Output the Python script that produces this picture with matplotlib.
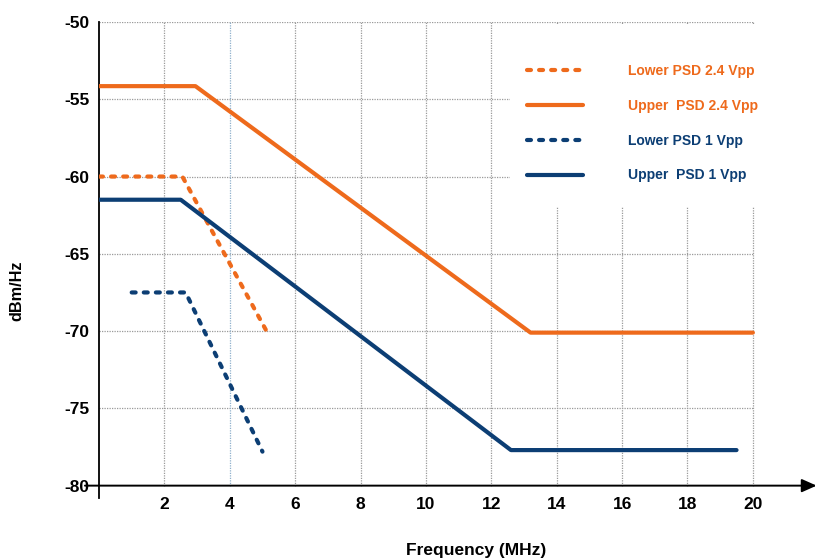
import matplotlib
matplotlib.use("Agg")
import matplotlib.pyplot as plt
from matplotlib.patches import Rectangle

plt.rcParams['font.family'] = ['Liberation Sans', 'DejaVu Sans']

# ---- data ----
x_lower24 = [0.0, 2.55, 5.15]
y_lower24 = [-60.0, -60.0, -70.1]
x_upper24 = [0.0, 2.95, 13.2, 20.0]
y_upper24 = [-54.15, -54.15, -70.1, -70.1]
x_lower1 = [1.0, 2.65, 5.0]
y_lower1 = [-67.5, -67.5, -77.8]
x_upper1 = [0.0, 2.5, 12.6, 19.5]
y_upper1 = [-61.5, -61.5, -77.7, -77.7]

labels = ["Lower PSD 2.4 Vpp", "Upper  PSD 2.4 Vpp", "Lower PSD 1 Vpp", "Upper  PSD 1 Vpp"]
x_ticks = [2, 4, 6, 8, 10, 12, 14, 16, 18, 20]
y_ticks = [-50, -55, -60, -65, -70, -75, -80]

ORANGE = '#EE6A1C'
NAVY = '#0C3E74'
GRID = '#9a9a9a'

fig = plt.figure(figsize=(8.15, 5.58), dpi=100)
ax = fig.add_axes([99/815, (558-498)/558, 716/815, 476/558])
ax.set_xlim(0, 21.9)
ax.set_ylim(-80.8, -50)

# grid
for yv in y_ticks[:-1]:
    ax.hlines(yv, 0, 20, colors=GRID, linestyles=(0, (1, 1)), lw=0.9, zorder=1)
for xv in x_ticks:
    c = '#8fb0cc' if xv == 4 else GRID
    ax.vlines(xv, -80, -50, colors=c, linestyles=(0, (1, 1)), lw=0.9, zorder=1)

# white area behind legend
ax.add_patch(Rectangle((12.57, -62.0), 9.0, 11.8, facecolor='white', edgecolor='none', zorder=1.5))

dash = (0, (0.95, 1.95))
l1, = ax.plot(x_lower24, y_lower24, color=ORANGE, lw=3, linestyle=dash, dash_capstyle='round', zorder=3)
l2, = ax.plot(x_upper24, y_upper24, color=ORANGE, lw=3, solid_capstyle='round', zorder=3)
l3, = ax.plot(x_lower1, y_lower1, color=NAVY, lw=3, linestyle=dash, dash_capstyle='round', zorder=3)
l4, = ax.plot(x_upper1, y_upper1, color=NAVY, lw=3, solid_capstyle='round', zorder=3)

leg = ax.legend([l1, l2, l3, l4], labels, loc='upper left',
                bbox_to_anchor=(527/815, 1 - 64/558), bbox_transform=fig.transFigure,
                frameon=False, borderpad=0, borderaxespad=0,
                handlelength=4.0, handletextpad=3.3, labelspacing=1.5,
                prop={'size': 10, 'weight': 'bold'}, labelcolor='linecolor')

# spines / axes
for s in ['top', 'right', 'bottom']:
    ax.spines[s].set_visible(False)
ax.spines['left'].set_linewidth(1.3)
ax.spines['left'].set_color('black')

ax.annotate('', xy=(21.95, -80), xytext=(-0.43, -80), xycoords='data',
            arrowprops=dict(arrowstyle='-|>,head_length=0.9,head_width=0.4',
                            lw=1.4, color='black', shrinkA=0, shrinkB=0),
            annotation_clip=False)

ax.set_xticks(x_ticks)
ax.set_xticklabels([str(v) for v in x_ticks])
ax.set_yticks(y_ticks)
ax.set_yticklabels([str(v) for v in y_ticks])
ax.tick_params(axis='both', length=0, labelsize=12.5)
ax.tick_params(axis='x', pad=-1)
ax.tick_params(axis='y', pad=7)
for t in ax.get_xticklabels() + ax.get_yticklabels():
    t.set_fontweight('bold')

fig.text(17/815, 1 - 291/558, 'dBm/Hz', rotation=90, ha='center', va='center',
         fontsize=11.7, fontweight='bold')
fig.text(476/815, 1 - 550/558, 'Frequency (MHz)', ha='center', va='center',
         fontsize=12.5, fontweight='bold')

fig.savefig('out.png', dpi=100)
